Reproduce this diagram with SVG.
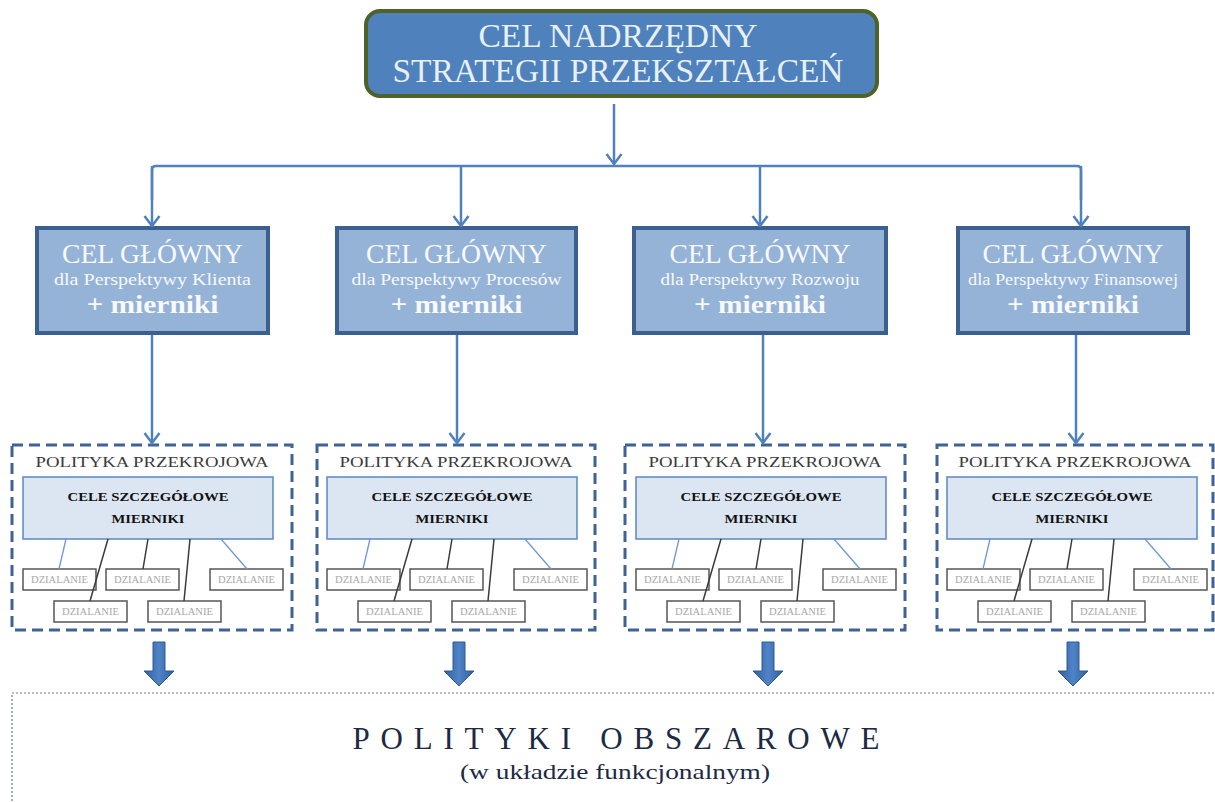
<svg xmlns="http://www.w3.org/2000/svg" width="1215" height="802" viewBox="0 0 1215 802">
  <style>
    .wire { stroke: #4f81bd; stroke-width: 2.5; fill: none; }
    .arr { marker-end: url(#chev); }
    .thin-blue { stroke: #6f98cc; stroke-width: 1.3; fill: none; }
    .thin-dark { stroke: #3b3b3b; stroke-width: 1.5; fill: none; }
    .goal { fill: #95b3d7; stroke: #3b5f8e; stroke-width: 4; }
    .goal-t { font-family: "Liberation Serif", serif; fill: #f7f9fc; text-anchor: middle; }
    .frame { fill: #ffffff; stroke: #3f6394; stroke-width: 3; stroke-dasharray: 11 6; }
    .pol-t { font-family: "Liberation Serif", serif; font-size: 14px; fill: #3a3a3a; text-anchor: middle; }
    .inner { fill: #dce6f2; stroke: #5b87c0; stroke-width: 1.5; }
    .inner-t { font-family: "Liberation Serif", serif; font-size: 13px; font-weight: bold; fill: #111111; text-anchor: middle; }
    .act { fill: #ffffff; stroke: #555555; stroke-width: 1.5; }
    .act-t { font-family: "Liberation Serif", serif; font-size: 9.5px; fill: #a8a8a8; text-anchor: middle; }
    .block { fill: url(#blockGrad); stroke: #2f5a90; stroke-width: 1; }
  </style>
  <defs>
    <marker id="chev" markerUnits="userSpaceOnUse" markerWidth="14" markerHeight="18" viewBox="0 0 14 18" refX="11" refY="9" orient="auto">
      <path d="M1,1.5 L11,9 L1,16.5" fill="none" stroke="#4f81bd" stroke-width="2.5" stroke-linejoin="miter"/>
    </marker>
    <linearGradient id="blockGrad" x1="0" y1="0" x2="1" y2="0">
      <stop offset="0" stop-color="#335f9e"/>
      <stop offset="0.5" stop-color="#4f84c8"/>
      <stop offset="1" stop-color="#335f9e"/>
    </linearGradient>
  </defs>

  <rect width="1215" height="802" fill="#ffffff"/>

  <!-- top-level goal -->
  <g id="cel-nadrzedny">
    <rect x="366" y="11" width="511" height="85" rx="14" ry="14" fill="#4f81bd" stroke="#4f6228" stroke-width="4"/>
    <text x="618" y="47" font-family="Liberation Serif, serif" font-size="33" fill="#e8f0f2" text-anchor="middle" textLength="279" lengthAdjust="spacingAndGlyphs">CEL NADRZĘDNY</text>
    <text x="618" y="82" font-family="Liberation Serif, serif" font-size="33" fill="#e8f0f2" text-anchor="middle" textLength="451" lengthAdjust="spacingAndGlyphs">STRATEGII PRZEKSZTAŁCEŃ</text>
  </g>

  <!-- perspective goals -->
  <g id="cel-klienta">
    <rect x="37" y="228" width="231" height="105" class="goal"/>
    <text x="152.5" y="263" class="goal-t" font-size="28" textLength="181" lengthAdjust="spacingAndGlyphs">CEL GŁÓWNY</text>
    <text x="152.5" y="285" class="goal-t" font-size="16" textLength="197" lengthAdjust="spacingAndGlyphs">dla Perspektywy Klienta</text>
    <text x="152.5" y="313" class="goal-t" font-size="25" font-weight="bold" textLength="132" lengthAdjust="spacingAndGlyphs">+ mierniki</text>
  </g>
  <g id="cel-procesow">
    <rect x="337" y="228" width="239" height="105" class="goal"/>
    <text x="456.5" y="263" class="goal-t" font-size="28" textLength="181" lengthAdjust="spacingAndGlyphs">CEL GŁÓWNY</text>
    <text x="456.5" y="285" class="goal-t" font-size="16" textLength="210" lengthAdjust="spacingAndGlyphs">dla Perspektywy Procesów</text>
    <text x="456.5" y="313" class="goal-t" font-size="25" font-weight="bold" textLength="132" lengthAdjust="spacingAndGlyphs">+ mierniki</text>
  </g>
  <g id="cel-rozwoju">
    <rect x="634" y="228" width="252" height="105" class="goal"/>
    <text x="760" y="263" class="goal-t" font-size="28" textLength="181" lengthAdjust="spacingAndGlyphs">CEL GŁÓWNY</text>
    <text x="760" y="285" class="goal-t" font-size="16" textLength="199" lengthAdjust="spacingAndGlyphs">dla Perspektywy Rozwoju</text>
    <text x="760" y="313" class="goal-t" font-size="25" font-weight="bold" textLength="132" lengthAdjust="spacingAndGlyphs">+ mierniki</text>
  </g>
  <g id="cel-finansowy">
    <rect x="958" y="228" width="230" height="105" class="goal"/>
    <text x="1073" y="263" class="goal-t" font-size="28" textLength="181" lengthAdjust="spacingAndGlyphs">CEL GŁÓWNY</text>
    <text x="1073" y="285" class="goal-t" font-size="16" textLength="210" lengthAdjust="spacingAndGlyphs">dla Perspektywy Finansowej</text>
    <text x="1073" y="313" class="goal-t" font-size="25" font-weight="bold" textLength="132" lengthAdjust="spacingAndGlyphs">+ mierniki</text>
  </g>

  <!-- cross-cutting policy frames -->
  <g id="polityka-1" transform="translate(12,0)">
    <rect x="0" y="445" width="280" height="185" class="frame"/>
    <text x="140" y="467" class="pol-t" textLength="233" lengthAdjust="spacingAndGlyphs">POLITYKA PRZEKROJOWA</text>
    <rect x="11" y="477" width="250" height="62" class="inner"/>
    <text x="136" y="501" class="inner-t" textLength="161" lengthAdjust="spacingAndGlyphs">CELE SZCZEGÓŁOWE</text>
    <text x="136" y="523" class="inner-t" textLength="73" lengthAdjust="spacingAndGlyphs">MIERNIKI</text>
    <rect x="11" y="569" width="73" height="21" class="act"/><text x="47.5" y="583" class="act-t" textLength="57" lengthAdjust="spacingAndGlyphs">DZIALANIE</text>
    <rect x="94" y="569" width="73" height="21" class="act"/><text x="130.5" y="583" class="act-t" textLength="57" lengthAdjust="spacingAndGlyphs">DZIALANIE</text>
    <rect x="198" y="569" width="73" height="21" class="act"/><text x="234.5" y="583" class="act-t" textLength="57" lengthAdjust="spacingAndGlyphs">DZIALANIE</text>
    <rect x="42" y="601" width="73" height="21" class="act"/><text x="78.5" y="615" class="act-t" textLength="57" lengthAdjust="spacingAndGlyphs">DZIALANIE</text>
    <rect x="136" y="601" width="73" height="21" class="act"/><text x="172.5" y="615" class="act-t" textLength="57" lengthAdjust="spacingAndGlyphs">DZIALANIE</text>
  </g>
  <g id="polityka-2" transform="translate(317,0)">
    <rect x="0" y="445" width="278" height="185" class="frame"/>
    <text x="139" y="467" class="pol-t" textLength="233" lengthAdjust="spacingAndGlyphs">POLITYKA PRZEKROJOWA</text>
    <rect x="10" y="477" width="250" height="62" class="inner"/>
    <text x="135" y="501" class="inner-t" textLength="161" lengthAdjust="spacingAndGlyphs">CELE SZCZEGÓŁOWE</text>
    <text x="135" y="523" class="inner-t" textLength="73" lengthAdjust="spacingAndGlyphs">MIERNIKI</text>
    <rect x="10" y="569" width="73" height="21" class="act"/><text x="46.5" y="583" class="act-t" textLength="57" lengthAdjust="spacingAndGlyphs">DZIALANIE</text>
    <rect x="93" y="569" width="73" height="21" class="act"/><text x="129.5" y="583" class="act-t" textLength="57" lengthAdjust="spacingAndGlyphs">DZIALANIE</text>
    <rect x="197" y="569" width="73" height="21" class="act"/><text x="233.5" y="583" class="act-t" textLength="57" lengthAdjust="spacingAndGlyphs">DZIALANIE</text>
    <rect x="41" y="601" width="73" height="21" class="act"/><text x="77.5" y="615" class="act-t" textLength="57" lengthAdjust="spacingAndGlyphs">DZIALANIE</text>
    <rect x="135" y="601" width="73" height="21" class="act"/><text x="171.5" y="615" class="act-t" textLength="57" lengthAdjust="spacingAndGlyphs">DZIALANIE</text>
  </g>
  <g id="polityka-3" transform="translate(625,0)">
    <rect x="0" y="445" width="280" height="185" class="frame"/>
    <text x="140" y="467" class="pol-t" textLength="233" lengthAdjust="spacingAndGlyphs">POLITYKA PRZEKROJOWA</text>
    <rect x="11" y="477" width="250" height="62" class="inner"/>
    <text x="136" y="501" class="inner-t" textLength="161" lengthAdjust="spacingAndGlyphs">CELE SZCZEGÓŁOWE</text>
    <text x="136" y="523" class="inner-t" textLength="73" lengthAdjust="spacingAndGlyphs">MIERNIKI</text>
    <rect x="11" y="569" width="73" height="21" class="act"/><text x="47.5" y="583" class="act-t" textLength="57" lengthAdjust="spacingAndGlyphs">DZIALANIE</text>
    <rect x="94" y="569" width="73" height="21" class="act"/><text x="130.5" y="583" class="act-t" textLength="57" lengthAdjust="spacingAndGlyphs">DZIALANIE</text>
    <rect x="198" y="569" width="73" height="21" class="act"/><text x="234.5" y="583" class="act-t" textLength="57" lengthAdjust="spacingAndGlyphs">DZIALANIE</text>
    <rect x="42" y="601" width="73" height="21" class="act"/><text x="78.5" y="615" class="act-t" textLength="57" lengthAdjust="spacingAndGlyphs">DZIALANIE</text>
    <rect x="136" y="601" width="73" height="21" class="act"/><text x="172.5" y="615" class="act-t" textLength="57" lengthAdjust="spacingAndGlyphs">DZIALANIE</text>
  </g>
  <g id="polityka-4" transform="translate(937,0)">
    <rect x="0" y="445" width="276" height="185" class="frame"/>
    <text x="138" y="467" class="pol-t" textLength="233" lengthAdjust="spacingAndGlyphs">POLITYKA PRZEKROJOWA</text>
    <rect x="10" y="477" width="250" height="62" class="inner"/>
    <text x="135" y="501" class="inner-t" textLength="161" lengthAdjust="spacingAndGlyphs">CELE SZCZEGÓŁOWE</text>
    <text x="135" y="523" class="inner-t" textLength="73" lengthAdjust="spacingAndGlyphs">MIERNIKI</text>
    <rect x="10" y="569" width="73" height="21" class="act"/><text x="46.5" y="583" class="act-t" textLength="57" lengthAdjust="spacingAndGlyphs">DZIALANIE</text>
    <rect x="93" y="569" width="73" height="21" class="act"/><text x="129.5" y="583" class="act-t" textLength="57" lengthAdjust="spacingAndGlyphs">DZIALANIE</text>
    <rect x="197" y="569" width="73" height="21" class="act"/><text x="233.5" y="583" class="act-t" textLength="57" lengthAdjust="spacingAndGlyphs">DZIALANIE</text>
    <rect x="41" y="601" width="73" height="21" class="act"/><text x="77.5" y="615" class="act-t" textLength="57" lengthAdjust="spacingAndGlyphs">DZIALANIE</text>
    <rect x="135" y="601" width="73" height="21" class="act"/><text x="171.5" y="615" class="act-t" textLength="57" lengthAdjust="spacingAndGlyphs">DZIALANIE</text>
  </g>

  <!-- area policies -->
  <g id="polityki-obszarowe">
    <rect x="12" y="693" width="1220" height="140" fill="none" stroke="#6b7c98" stroke-width="1.2" stroke-dasharray="2 2"/>
    <text x="616" y="749" font-family="Liberation Serif, serif" font-size="31" fill="#1c2a44" text-anchor="middle" textLength="527" lengthAdjust="spacing">POLITYKI  OBSZAROWE</text>
    <text x="615" y="779" font-family="Liberation Serif, serif" font-size="21" fill="#1c2a44" text-anchor="middle" textLength="310" lengthAdjust="spacingAndGlyphs">(w układzie funkcjonalnym)</text>
  </g>

  <!-- connectors -->
  <g id="connectors">
    <line x1="614" y1="104" x2="614" y2="164" class="wire arr"/>
    <path d="M152,200 V170 Q152,166 156,166 H1077 Q1081,166 1081,170 V200" class="wire"/>
    <line x1="152" y1="166" x2="152" y2="226" class="wire arr"/>
    <line x1="461" y1="166" x2="461" y2="226" class="wire arr"/>
    <line x1="760" y1="166" x2="760" y2="226" class="wire arr"/>
    <line x1="1081" y1="166" x2="1081" y2="226" class="wire arr"/>

    <line x1="152" y1="335" x2="152" y2="443" class="wire arr"/>
    <line x1="457" y1="335" x2="457" y2="443" class="wire arr"/>
    <line x1="763" y1="335" x2="763" y2="443" class="wire arr"/>
    <line x1="1076" y1="335" x2="1076" y2="443" class="wire arr"/>

    <g transform="translate(12,0)">
      <line x1="54" y1="539" x2="47" y2="569" class="thin-blue"/>
      <line x1="96" y1="539" x2="78" y2="601" class="thin-dark"/>
      <line x1="136" y1="539" x2="131" y2="569" class="thin-dark"/>
      <line x1="178" y1="539" x2="172" y2="601" class="thin-dark"/>
      <line x1="209" y1="539" x2="235" y2="569" class="thin-blue"/>
    </g>
    <g transform="translate(317,0)">
      <line x1="53" y1="539" x2="46" y2="569" class="thin-blue"/>
      <line x1="95" y1="539" x2="77" y2="601" class="thin-dark"/>
      <line x1="135" y1="539" x2="130" y2="569" class="thin-dark"/>
      <line x1="177" y1="539" x2="171" y2="601" class="thin-dark"/>
      <line x1="208" y1="539" x2="234" y2="569" class="thin-blue"/>
    </g>
    <g transform="translate(625,0)">
      <line x1="54" y1="539" x2="47" y2="569" class="thin-blue"/>
      <line x1="96" y1="539" x2="78" y2="601" class="thin-dark"/>
      <line x1="136" y1="539" x2="131" y2="569" class="thin-dark"/>
      <line x1="178" y1="539" x2="172" y2="601" class="thin-dark"/>
      <line x1="209" y1="539" x2="235" y2="569" class="thin-blue"/>
    </g>
    <g transform="translate(937,0)">
      <line x1="53" y1="539" x2="46" y2="569" class="thin-blue"/>
      <line x1="95" y1="539" x2="77" y2="601" class="thin-dark"/>
      <line x1="135" y1="539" x2="130" y2="569" class="thin-dark"/>
      <line x1="177" y1="539" x2="171" y2="601" class="thin-dark"/>
      <line x1="208" y1="539" x2="234" y2="569" class="thin-blue"/>
    </g>

    <polygon points="153,642 165,642 165,671 174,671 159,686 144,671 153,671" class="block"/>
    <polygon points="453,642 465,642 465,671 474,671 459,686 444,671 453,671" class="block"/>
    <polygon points="762,642 774,642 774,671 783,671 768,686 753,671 762,671" class="block"/>
    <polygon points="1067,642 1079,642 1079,671 1088,671 1073,686 1058,671 1067,671" class="block"/>
  </g>
</svg>
